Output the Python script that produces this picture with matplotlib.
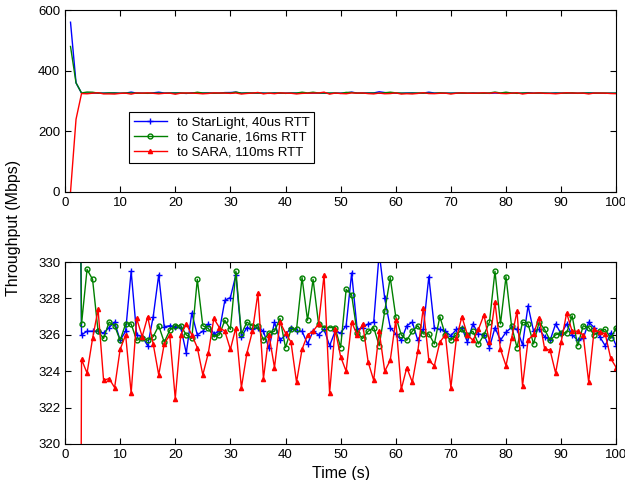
import numpy as np
import matplotlib.pyplot as plt

plt.rcParams['font.family'] = ['Liberation Sans', 'DejaVu Sans']
plt.rcParams['font.size'] = 9.5

# time axis (s), one sample per second
t = np.arange(1, 101)

# throughput samples (Mbps)
starlight = [560, 360,
             326.0, 326.2, 326.2, 326.2, 326.1, 326.4, 326.7, 325.7, 326.2, 329.5,
             326.0, 325.9, 325.4, 327.0, 329.3, 326.45, 326.5, 326.45, 326.4, 325.0,
             327.2, 326.0, 326.2, 326.6, 326.05, 326.2, 327.9, 328.05, 329.3, 325.9,
             326.4, 326.3, 326.4, 326.2, 325.25, 326.7, 325.7, 326.0, 326.4, 326.2,
             326.2, 325.5, 326.2, 326.0, 326.3, 325.4, 326.2, 326.1, 326.5, 329.4,
             326.3, 326.4, 326.6, 326.7, 330.5, 328.0, 326.4, 326.05, 325.7, 326.5,
             326.7, 325.7, 326.3, 329.2, 326.4, 326.3, 326.2, 325.95, 326.3, 326.4,
             325.6, 326.6, 326.05, 326.0, 325.3, 326.4, 325.7, 326.15, 326.4, 326.3,
             325.45, 327.6, 326.2, 326.3, 325.9, 325.7, 326.6, 326.05, 326.6, 326.0,
             325.7, 325.8, 326.7, 326.4, 325.9, 325.4, 326.1, 325.4]

canarie = [480, 360,
           326.6, 329.6, 329.05, 326.2, 325.8, 326.7, 326.5, 325.7, 326.6, 326.6,
           325.7, 325.8, 325.7, 325.9, 326.5, 325.6, 326.25, 326.5, 326.5, 326.0,
           325.8, 329.05, 326.5, 326.35, 325.9, 326.0, 326.8, 326.3, 329.5, 326.05,
           326.7, 326.5, 326.5, 325.7, 326.1, 326.2, 326.9, 325.3, 326.3, 326.3,
           329.15, 326.8, 329.05, 326.6, 326.4, 326.4, 326.4, 325.3, 328.5, 328.2,
           326.1, 325.8, 326.2, 326.4, 325.4, 327.3, 329.15, 327.0, 326.0, 325.7,
           326.2, 326.5, 326.05, 326.05, 325.5, 327.0, 326.0, 325.7, 326.0, 326.3,
           326.0, 326.2, 325.5, 326.0, 326.7, 329.5, 326.6, 329.2, 326.5, 325.3,
           326.7, 326.6, 325.5, 326.7, 326.3, 325.7, 326.0, 326.1, 326.1, 327.05,
           325.4, 326.5, 326.4, 326.0, 326.2, 326.3, 325.8, 326.4]

sara = [0, 240,
        324.65, 323.9, 325.8, 327.4, 323.5, 323.6, 323.1, 325.2, 326.0, 322.8,
        326.9, 325.9, 327.0, 325.5, 323.8, 325.5, 326.0, 322.5, 326.0, 326.6,
        326.0, 325.3, 323.8, 325.0, 326.9, 326.4, 326.2, 325.2, 326.4, 323.1,
        325.0, 326.2, 328.3, 323.6, 326.0, 324.2, 326.7, 326.1, 325.6, 323.4,
        325.2, 326.0, 326.2, 326.6, 329.3, 322.8, 326.3, 324.8, 324.0, 326.7,
        326.0, 326.6, 324.5, 323.5, 326.2, 324.0, 324.6, 326.8, 323.0, 324.2,
        323.4, 325.1, 327.5, 324.6, 324.3, 325.6, 326.0, 323.1, 325.8, 327.0,
        326.0, 325.7, 326.3, 327.1, 325.6, 327.8, 325.2, 324.3, 325.8, 327.3,
        323.2, 325.7, 326.05, 326.95, 325.25, 325.15, 323.9, 325.6, 327.2, 326.2,
        326.2, 326.0, 323.4, 326.3, 326.15, 326.05, 324.7, 324.2]

labels = ['to StarLight, 40us RTT', 'to Canarie, 16ms RTT', 'to SARA, 110ms RTT']
green = '#008000'

fig = plt.figure(figsize=(6.25, 4.8), dpi=100)
ax1 = fig.add_axes([0.104, 0.60, 0.882, 0.379])
ax2 = fig.add_axes([0.104, 0.075, 0.882, 0.379])

# overview: markers are too dense to see at this scale
ax1.plot(t, starlight, 'b-', lw=1)
ax1.plot(t, canarie, '-', color=green, lw=1)
ax1.plot(t, sara, 'r-', lw=1)

# zoomed view with markers
h1, = ax2.plot(t, starlight, 'b-', marker='+', ms=4, mew=1, lw=1)
h2, = ax2.plot(t, canarie, '-', color=green, marker='o', ms=3.5, mfc='none',
               mew=1, lw=1)
h3, = ax2.plot(t, sara, 'r-', marker='^', ms=3, lw=1)

for ax in (ax1, ax2):
    ax.set_xlim(0, 100)
    ax.set_xticks(np.arange(0, 101, 10))
    ax.tick_params(direction='in', top=True, right=True, length=4)

ax1.set_ylim(0, 600)
ax1.set_yticks([0, 200, 400, 600])
ax2.set_ylim(320, 330)
ax2.set_yticks(np.arange(320, 331, 2))

leg = ax1.legend([h1, h2, h3], labels, loc='lower left',
                 bbox_to_anchor=(0.116, 0.16), fontsize=9.5,
                 fancybox=False, framealpha=1, edgecolor='black',
                 borderaxespad=0, handlelength=2.5, labelspacing=0.2,
                 borderpad=0.35)
leg.get_frame().set_linewidth(0.8)

ax2.set_xlabel('Time (s)', fontsize=11.5, labelpad=4)
fig.text(0.022, 0.525, 'Throughput (Mbps)', rotation=90, va='center',
         ha='center', fontsize=11.5)

plt.savefig('out.png', dpi=100)
